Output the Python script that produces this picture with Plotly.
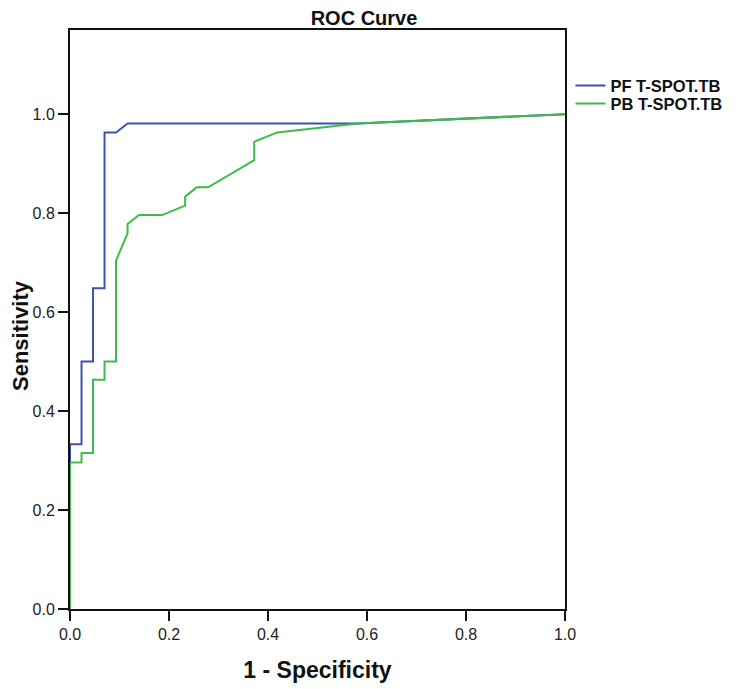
import plotly.graph_objects as go

# ROC curve points (1 - specificity, sensitivity)
pf_fpr = [0.0, 0.0, 0.0233, 0.0233, 0.0465, 0.0465, 0.0698, 0.0698, 0.0930, 0.1163, 0.5814, 1.0]
pf_tpr = [0.0, 0.333, 0.333, 0.500, 0.500, 0.648, 0.648, 0.963, 0.963, 0.981, 0.981, 1.0]

pb_fpr = [0.0, 0.0, 0.0233, 0.0233, 0.0465, 0.0465, 0.0698, 0.0698, 0.0930, 0.0930,
          0.1163, 0.1163, 0.1395, 0.1860, 0.2326, 0.2326, 0.2558, 0.2791, 0.3721, 0.3721,
          0.4186, 0.5814, 1.0]
pb_tpr = [0.0, 0.296, 0.296, 0.315, 0.315, 0.463, 0.463, 0.500, 0.500, 0.704,
          0.759, 0.778, 0.796, 0.796, 0.815, 0.833, 0.852, 0.852, 0.907, 0.944,
          0.963, 0.981, 1.0]

series_names = ["PF T-SPOT.TB", "PB T-SPOT.TB"]
series_colors = ["#3D52B2", "#3DBB4C"]
tick_vals = [0.0, 0.2, 0.4, 0.6, 0.8, 1.0]

FONT = "Liberation Sans, Arial, sans-serif"

fig = go.Figure()
fig.add_trace(go.Scatter(x=pf_fpr, y=pf_tpr, mode="lines", name=series_names[0],
                         line=dict(color=series_colors[0], width=2), legend="legend"))
fig.add_trace(go.Scatter(x=pb_fpr, y=pb_tpr, mode="lines", name=series_names[1],
                         line=dict(color=series_colors[1], width=2), legend="legend2"))

axis_common = dict(
    showgrid=False, zeroline=False,
    showline=True, linecolor="#111111", linewidth=2, mirror=True,
    ticks="outside", ticklen=10, tickwidth=2, tickcolor="#111111",
    tickvals=tick_vals, tickformat=".1f",
    tickfont=dict(family=FONT, size=16, color="#222222"),
)

legend_style = dict(xanchor="left", yanchor="top",
                    font=dict(family=FONT, size=16.5, color="#111111", weight="bold"),
                    bgcolor="rgba(0,0,0,0)", borderwidth=0, itemwidth=30)

W, H = 750, 689
L, T, PW, PH = 62, 22, 495, 579

fig.update_layout(
    width=W, height=H,
    paper_bgcolor="white", plot_bgcolor="white",
    margin=dict(l=L, r=W - L - PW, t=T, b=H - T - PH),
    title=dict(text="<b>ROC Curve</b>", x=356 / W, xanchor="center", y=1 - 3 / H, yanchor="top",
               font=dict(family=FONT, size=20, color="#111111")),
    xaxis=dict(range=[0, 1.0], title=dict(text="<b>1 - Specificity</b>", standoff=20,
               font=dict(family=FONT, size=23, color="#111111")), **axis_common),
    yaxis=dict(range=[0, 1.17], **axis_common),
    legend=dict(x=1.011, y=0.934, **legend_style),
    legend2=dict(x=1.011, y=0.903, **legend_style),
    showlegend=True,
    annotations=[dict(text="<b>Sensitivity</b>", xref="paper", yref="paper",
                      x=-0.101, y=0.4715, xanchor="center", yanchor="middle",
                      textangle=-90, showarrow=False,
                      font=dict(family=FONT, size=22, color="#111111"))],
)

fig.write_html("out.html")
